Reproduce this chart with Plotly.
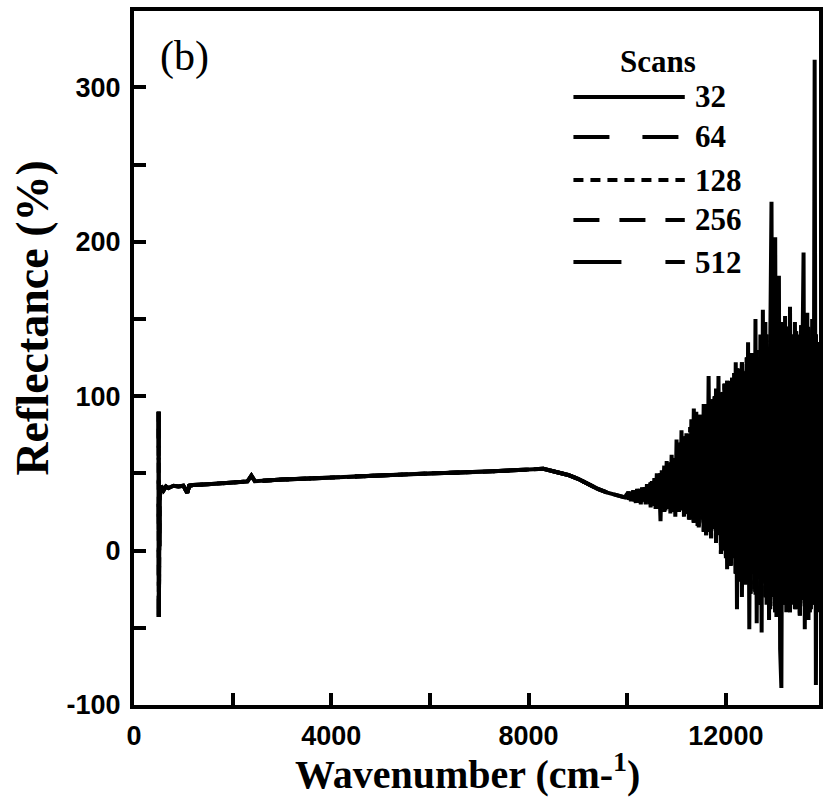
import plotly.graph_objects as go

# ---------------- data ----------------
scan_counts = ["32", "64", "128", "256", "512"]

# smooth part of the spectrum (wavenumber, reflectance %)
wn_smooth = [500, 503, 507, 520, 550, 600, 650, 700, 800, 900, 1000, 1080, 1120,
             1200, 1500, 2000, 2300, 2380, 2450, 3000, 4000, 5000, 6000, 7000,
             7500, 8000, 8300, 8600, 8800, 9000, 9200, 9400, 9600, 9800, 9950]
refl_smooth = [90, -43, 50, 34, 42, 39, 41.5, 40.5, 42, 41.5, 42, 37.5, 42,
               42.5, 43, 44, 44.8, 48.5, 45, 46, 47.5, 49, 50, 51,
               51.5, 52.5, 53, 51, 49, 46.5, 43, 40, 37.5, 36, 34.5]

# noisy high-wavenumber part, sampled every 25 cm-1 from 10000 to 13875
wn_noisy = list(range(10000, 13900, 25))
# 32-scan spectrum (carries the largest spikes)
refl_noisy_32 = [
    37, 33, 36, 32, 38, 34, 35, 31,
    40, 33, 38, 30, 41, 35, 37, 30,
    43, 32, 40, 28, 45, 34, 47, 27,
    50, 30, 44, 19, 52, 33, 55, 26,
    58, 28, 50, 24, 62, 36, 57, 22,
    72, 30, 64, 26, 78, 38, 60, 31,
    76, 24, 70, 20, 85, 35, 92, 28,
    90, 16, 74, 30, 82, 20, 95, 38,
    70, 12, 113, 25, 88, 14, 80, 30,
    105, 18, 113, 10, 92, 0, 98, 22,
    104, -12, 85, 20, 110, -5, 95, 15,
    122, -38, 100, -10, 118, -30, 90, 5,
    115, -20, 135, -51, 105, -15, 128, -25,
    150, -47, 110, -10, 140, -53, 156, -20,
    148, -35, 120, -45, 135, 226, -30, 160,
    203, -43, 140, 178, -64, -89, 130, -20,
    152, -40, 120, -25, 158, -35, 110, -15,
    148, -38, 125, -30, 140, -20, 118, 193,
    -51, 130, 154, -45, 120, -38, 150, -30,
    318, -87, 130, -40,
]
# higher scan counts: overlapping noise of similar envelope
refl_noisy_hi = [
    35, 38, 33, 37, 34, 39, 32, 36,
    34, 39, 31, 40, 33, 38, 32, 41,
    33, 42, 30, 44, 35, 41, 29, 46,
    31, 48, 27, 50, 34, 47, 25, 52,
    29, 55, 27, 57, 33, 52, 25, 60,
    28, 66, 25, 70, 35, 62, 22, 74,
    24, 75, 20, 80, 30, 70, 18, 82,
    20, 85, 15, 88, 25, 78, 12, 92,
    10, 95, 18, 90, 8, 98, 15, 100,
    5, 102, 12, 96, -2, 105, 10, 108,
    -5, 110, 0, 104, -10, 112, 2, 115,
    -15, 118, -8, 110, -20, 122, -5, 116,
    -22, 125, -12, 118, -28, 128, -15, 120,
    -30, 130, -18, 125, -35, 135, -20, 128,
    -32, 140, -25, 132, -38, 145, -28, 138,
    -40, 150, -30, 140, -45, 148, -35, 142,
    -35, 138, -28, 145, -40, 135, -30, 140,
    -38, 142, -30, 136, -42, 146, -32, 138,
    -36, 140, -30, 145, -40, 138, -33, 142,
    -35, 140, -30, 135,
]

wavenumber = wn_smooth + wn_noisy
reflectance = {
    "32": refl_smooth + refl_noisy_32,
    "64": refl_smooth + refl_noisy_hi,
    "128": refl_smooth + refl_noisy_hi,
    "256": refl_smooth + refl_noisy_hi,
    "512": refl_smooth + refl_noisy_hi,
}

x_tick_vals = [0, 4000, 8000, 12000]
x_tick_text = ["0", "4000", "8000", "12000"]
y_tick_vals = [-100, 0, 100, 200, 300]
y_tick_text = ["-100", "0", "100", "200", "300"]
x_minor_step = 2000
y_minor_step = 50

# ---------------- styles ----------------
dash_style = {"32": "solid", "64": "36px,33px", "128": "10px,7px",
              "256": "26px,20px", "512": "48px,44px"}

W, H = 823, 798
L, R, T, B = 134, 823, 11, 705


def px(x):
    return (x - L) / (R - L)


def py(y):
    return (B - y) / (B - T)


fig = go.Figure()
for s in ["512", "256", "128", "64", "32"]:
    fig.add_trace(go.Scatter(
        x=wavenumber, y=reflectance[s], mode="lines", name=s,
        line=dict(color="black", width=4, dash=dash_style[s]),
        showlegend=False, hoverinfo="skip"))

tickfont = dict(family="Liberation Sans", size=27, color="black", weight="bold")
common = dict(ticks="inside", ticklen=12, tickwidth=4, tickcolor="black",
              showline=True, linewidth=4, linecolor="black", mirror=True,
              showgrid=False, zeroline=False, tickfont=tickfont,
              ticklabelstandoff=4, tickmode="array")
fig.update_xaxes(range=[0, 13888], tickvals=x_tick_vals, ticktext=x_tick_text,
                 minor=dict(ticks="inside", ticklen=12, tickwidth=4,
                            tickcolor="black", dtick=x_minor_step, tick0=0,
                            showgrid=False),
                 **common)
fig.update_yaxes(range=[-100, 349.5], tickvals=y_tick_vals, ticktext=y_tick_text,
                 minor=dict(ticks="inside", ticklen=12, tickwidth=4,
                            tickcolor="black", dtick=y_minor_step, tick0=0,
                            showgrid=False),
                 **common)

serif = "Liberation Serif"
ann = []
ann.append(dict(x=px(185), y=py(56), text="(b)", showarrow=False,
                font=dict(family=serif, size=42, color="black"),
                xanchor="center", yanchor="middle"))
ann.append(dict(x=px(661), y=py(62), text="<b>Scans</b>", showarrow=False,
                font=dict(family=serif, size=31, color="black"),
                xanchor="center", yanchor="middle"))
row_y = [97, 137, 180, 220, 262]
shapes = []
for s, yy in zip(scan_counts, row_y):
    ann.append(dict(x=px(696), y=py(yy), text="<b>%s</b>" % s, showarrow=False,
                    font=dict(family=serif, size=31, color="black"),
                    xanchor="left", yanchor="middle"))
    shapes.append(dict(type="line", xref="paper", yref="paper",
                       x0=px(576), x1=px(688), y0=py(yy), y1=py(yy),
                       line=dict(color="black", width=4, dash=dash_style[s])))
ann.append(dict(x=px(469), y=py(771), text="<b>Wavenumber (cm-<sup>1</sup>)</b>",
                showarrow=False, font=dict(family=serif, size=40, color="black"),
                xanchor="center", yanchor="middle"))
ann.append(dict(x=px(31), y=py(318), text="<b>Reflectance (%)</b>", textangle=-90,
                showarrow=False, font=dict(family=serif, size=46, color="black"),
                xanchor="center", yanchor="middle"))
for a in ann:
    a.setdefault("xref", "paper")
    a.setdefault("yref", "paper")

fig.update_layout(width=W, height=H, margin=dict(l=L, r=W - R, t=T, b=H - B),
                  plot_bgcolor="white", paper_bgcolor="white",
                  annotations=ann, shapes=shapes, showlegend=False)

fig.write_html("out.html", config={"displayModeBar": False},
               post_script="document.body.style.margin='0';"
                           "document.body.style.overflow='hidden';")
